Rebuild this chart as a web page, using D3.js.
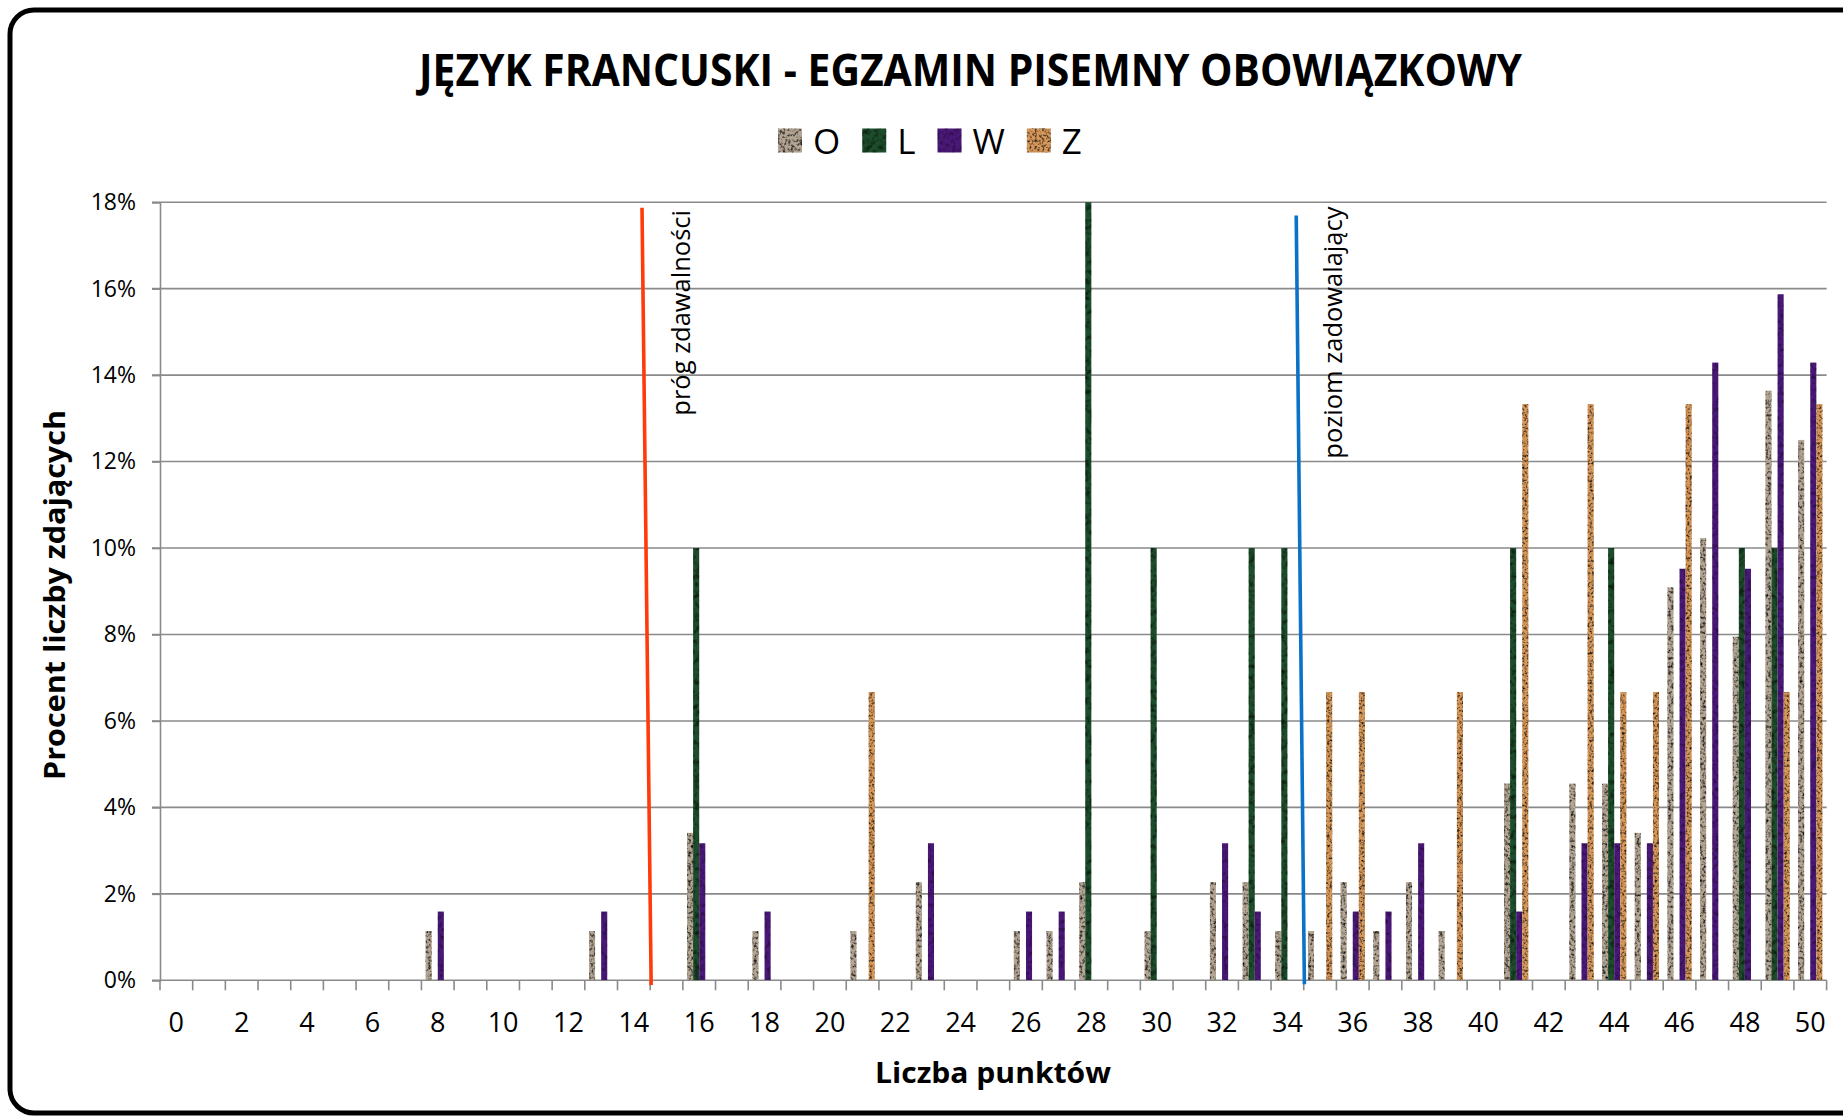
<!DOCTYPE html>
<html>
<head>
<meta charset="utf-8">
<script src="https://cdn.jsdelivr.net/npm/d3@7/dist/d3.min.js"></script>
<style>
  body { margin: 0; background: #fff; }
  text { font-family: "Open Sans", sans-serif; }
</style>
</head>
<body>
<div id="chart"></div>
<script>

// points on the exam (0..50)
var categories = [0,1,2,3,4,5,6,7,8,9,10,11,12,13,14,15,16,17,18,19,20,21,22,23,24,25,
                  26,27,28,29,30,31,32,33,34,35,36,37,38,39,40,41,42,43,44,45,46,47,48,49,50];

var seriesNames = ["O", "L", "W", "Z"];

// percent of students per score, one array per group
var valuesO = [0,0,0,0,0,0,0,0,1.14,0, 0,0,0,1.14,0,0,3.41,0,1.14,0, 0,1.14,0,2.27,0,0,1.14,1.14,2.27,0,
               1.14,0,2.27,2.27,1.14,1.14,2.27,1.14,2.27,1.14, 0,4.55,0,4.55,4.55,3.41,9.09,10.23,7.95,13.64, 12.50];
var valuesL = [0,0,0,0,0,0,0,0,0,0, 0,0,0,0,0,0,10,0,0,0, 0,0,0,0,0,0,0,0,20,0,
               10,0,0,10,10,0,0,0,0,0, 0,10,0,0,10,0,0,0,10,10, 0];
var valuesW = [0,0,0,0,0,0,0,0,1.59,0, 0,0,0,1.59,0,0,3.17,0,1.59,0, 0,0,0,3.17,0,0,1.59,1.59,0,0,
               0,0,3.17,1.59,0,0,1.59,1.59,3.17,0, 0,1.59,0,3.17,3.17,3.17,9.52,14.29,9.52,15.87, 14.29];
var valuesZ = [0,0,0,0,0,0,0,0,0,0, 0,0,0,0,0,0,0,0,0,0, 0,6.67,0,0,0,0,0,0,0,0,
               0,0,0,0,0,6.67,6.67,0,0,6.67, 0,13.33,0,13.33,6.67,6.67,13.33,0,0,6.67, 13.33];

var yTicks = [0,2,4,6,8,10,12,14,16,18];
var xLabels = [0,2,4,6,8,10,12,14,16,18,20,22,24,26,28,30,32,34,36,38,40,42,44,46,48,50];

// threshold markers (score, percent)
var thresholdLabels = ["próg zdawalności", "poziom zadowalający"];
var thresholdTop    = [[14.25, 17.87], [34.27, 17.69]];
var thresholdBottom = [[14.53, -0.11], [34.52, -0.09]];
var thresholdText   = [[15.72, 17.82], [35.67, 17.90]];

var colors = {O: "#b3a593", L: "#1d4d2b", W: "#4a1877", Z: "#d6985a"};
var thresholdColors = ["#ff3b0c", "#0a73c8"];

var valuesBy = {O: valuesO, L: valuesL, W: valuesW, Z: valuesZ};

// flat list of bars
var bars = [];
categories.forEach(function(c, i){
  seriesNames.forEach(function(s){
    if (valuesBy[s][i] > 0) bars.push({cat: c, series: s, value: valuesBy[s][i]});
  });
});

var W = 1843, H = 1116;
var plotL = 160, plotR = 1826.6, plotT = 202.2, plotB = 980.3;

var svg = d3.select("#chart")
    .append("svg")
    .attr("width", W)
    .attr("height", H);

var defs = svg.append("defs");

// stone-like textures for the bars (frequency, octaves, alpha offset, alpha gain)
var texture = {O: [0.35, 3, 1.25, 2.3], L: [0.2, 2, 0.9, 1.6], W: [0.25, 2, 0.6, 1.1], Z: [0.4, 3, 1.25, 2.3]};
seriesNames.forEach(function(s, k){
  var f = defs.append("filter")
      .attr("id", "tex-" + s)
      .attr("x", 0).attr("y", 0).attr("width", 1).attr("height", 1)
      .attr("color-interpolation-filters", "sRGB");
  f.append("feTurbulence")
      .attr("type", "fractalNoise")
      .attr("baseFrequency", texture[s][0])
      .attr("numOctaves", texture[s][1])
      .attr("seed", k + 3)
      .attr("result", "noise");
  f.append("feColorMatrix")
      .attr("in", "noise")
      .attr("type", "matrix")
      .attr("values", "0 0 0 0 0  0 0 0 0 0  0 0 0 0 0  " + (-texture[s][3]) + " 0 0 0 " + texture[s][2])
      .attr("result", "spots");
  f.append("feComposite")
      .attr("in", "spots").attr("in2", "SourceGraphic")
      .attr("operator", "in").attr("result", "spotsIn");
  var m = f.append("feMerge");
  m.append("feMergeNode").attr("in", "SourceGraphic");
  m.append("feMergeNode").attr("in", "spotsIn");
});

defs.append("clipPath").attr("id", "plotClip")
  .append("rect")
    .attr("x", plotL).attr("y", plotT)
    .attr("width", plotR - plotL).attr("height", plotB - plotT);

// outer frame with rounded corners
svg.append("path")
    .attr("d", "M1850,10 H34 A24,24 0 0 0 10,34 V1090 A24,24 0 0 0 34,1113 H1850")
    .style("fill", "none")
    .style("stroke", "#000")
    .style("stroke-width", 5);

// scales
var x = d3.scaleBand()
    .domain(categories)
    .range([plotL, plotR])
    .paddingInner(0.256)
    .paddingOuter(0.128);

var xSub = d3.scaleBand()
    .domain(seriesNames)
    .range([0, x.bandwidth()]);

var xLin = d3.scaleLinear()
    .domain([-0.5, 50.5])
    .range([plotL, plotR]);

var y = d3.scaleLinear()
    .domain([0, 18])
    .range([plotB, plotT]);

// gridlines
svg.append("g")
    .selectAll("line")
    .data(yTicks)
    .enter().append("line")
    .attr("x1", plotL - 8)
    .attr("x2", plotR)
    .attr("y1", function(d){ return y(d); })
    .attr("y2", function(d){ return y(d); })
    .style("stroke", "#8a8a8a")
    .style("stroke-width", 1.6);

// y axis
var yAxis = svg.append("g")
    .attr("transform", "translate(" + plotL + ",0)")
    .call(d3.axisLeft(y).tickValues(yTicks).tickSize(8).tickPadding(16)
          .tickFormat(function(d){ return d + "%"; }));
yAxis.select(".domain").style("stroke", "#8a8a8a").style("stroke-width", 1.6);
yAxis.selectAll(".tick line").style("stroke", "#8a8a8a").style("stroke-width", 1.6);
yAxis.selectAll("text")
    .style("font-family", "Open Sans")
    .style("font-size", "23px")
    .style("fill", "#000");

// category boundary ticks on the x axis
svg.append("g")
    .selectAll("line")
    .data(categories.concat([categories.length]))
    .enter().append("line")
    .attr("x1", function(d){ return xLin(d - 0.5); })
    .attr("x2", function(d){ return xLin(d - 0.5); })
    .attr("y1", plotB)
    .attr("y2", plotB + 10)
    .style("stroke", "#8a8a8a")
    .style("stroke-width", 1.6);

// x labels, every second score
var xAxis = svg.append("g")
    .attr("transform", "translate(0," + plotB + ")")
    .call(d3.axisBottom(x).tickValues(xLabels).tickSize(0).tickPadding(33));
xAxis.select(".domain").remove();
xAxis.selectAll("text")
    .style("font-family", "Open Sans")
    .style("font-size", "27px")
    .style("fill", "#000");

// bars
svg.append("g")
    .attr("clip-path", "url(#plotClip)")
    .selectAll("rect")
    .data(bars)
    .enter().append("rect")
    .attr("x", function(d){ return x(d.cat) + xSub(d.series); })
    .attr("y", function(d){ return y(d.value); })
    .attr("width", xSub.bandwidth())
    .attr("height", function(d){ return plotB - y(d.value); })
    .style("fill", function(d){ return colors[d.series]; })
    .attr("filter", function(d){ return "url(#tex-" + d.series + ")"; });

// threshold lines and their labels
thresholdLabels.forEach(function(label, i){
  svg.append("line")
      .attr("x1", xLin(thresholdTop[i][0]))
      .attr("y1", y(thresholdTop[i][1]))
      .attr("x2", xLin(thresholdBottom[i][0]))
      .attr("y2", y(thresholdBottom[i][1]))
      .style("stroke", thresholdColors[i])
      .style("stroke-width", 3.6);

  svg.append("text")
      .attr("transform", "translate(" + xLin(thresholdText[i][0]) + "," + y(thresholdText[i][1]) + ") rotate(-90)")
      .attr("text-anchor", "end")
      .style("font-size", "25.5px")
      .style("fill", "#000")
      .text(label);
});

// title
svg.append("text")
    .attr("x", 970.5)
    .attr("y", 86)
    .attr("text-anchor", "middle")
    .attr("textLength", 1103)
    .attr("lengthAdjust", "spacingAndGlyphs")
    .style("font-size", "45px")
    .style("font-weight", "bold")
    .text("JĘZYK FRANCUSKI - EGZAMIN PISEMNY OBOWIĄZKOWY");

// legend
var lx = 778;
seriesNames.forEach(function(s){
  svg.append("rect")
      .attr("x", lx).attr("y", 128.5)
      .attr("width", 24).attr("height", 24)
      .style("fill", colors[s])
      .attr("filter", "url(#tex-" + s + ")");
  var t = svg.append("text")
      .attr("x", lx + 35)
      .attr("y", 153.5)
      .style("font-size", "35px")
      .text(s);
  lx += 35 + t.node().getComputedTextLength() + 22;
});

// axis titles
svg.append("text")
    .attr("transform", "translate(65,595) rotate(-90)")
    .attr("text-anchor", "middle")
    .attr("textLength", 370)
    .attr("lengthAdjust", "spacingAndGlyphs")
    .style("font-size", "29px")
    .style("font-weight", "bold")
    .text("Procent liczby zdających");

svg.append("text")
    .attr("x", 993)
    .attr("y", 1083)
    .attr("text-anchor", "middle")
    .attr("textLength", 236)
    .attr("lengthAdjust", "spacingAndGlyphs")
    .style("font-size", "29px")
    .style("font-weight", "bold")
    .text("Liczba punktów");

</script>
</body>
</html>
